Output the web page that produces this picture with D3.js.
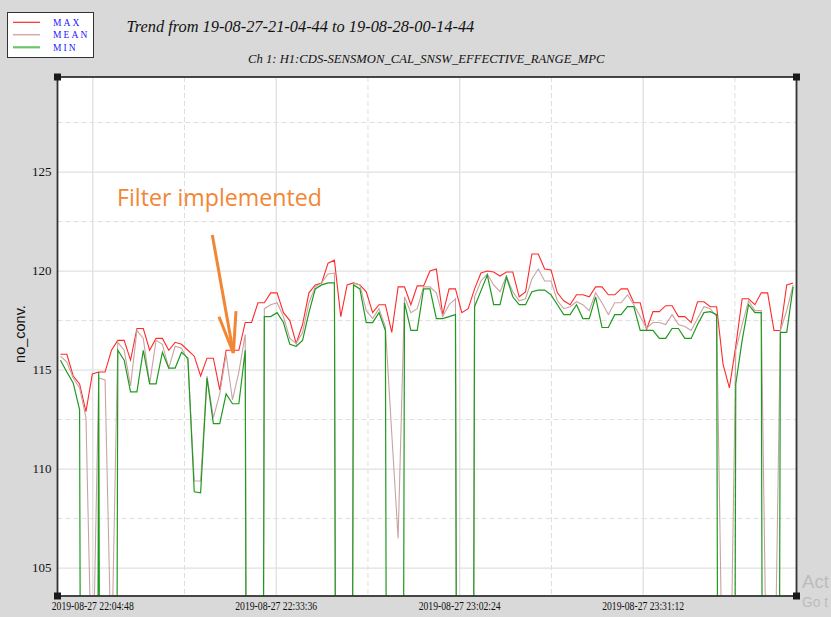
<!DOCTYPE html>
<html><head><meta charset="utf-8">
<script src="https://cdn.jsdelivr.net/npm/d3@7"></script>
<style>
html,body{margin:0;padding:0;background:#d9d9d9;overflow:hidden;}
svg{display:block;}
</style></head><body>
<svg id="chart" width="831" height="617"></svg>
<script>
// ---------------- data ----------------
const titleText = "Trend from 19-08-27-21-04-44 to 19-08-28-00-14-44";
const subtitleText = "Ch 1: H1:CDS-SENSMON_CAL_SNSW_EFFECTIVE_RANGE_MPC";
const yAxisTitle = "no_conv.";
const seriesNames = ["MAX", "MEAN", "MIN"];
const startTime = "2019-08-27 21:59:44";   // first sample
const stepSeconds = 60;                    // one sample per minute
const domainStart = "2019-08-27 21:59:16";
const domainEnd = "2019-08-27 23:55:16";
const xTickTimes = ["2019-08-27 22:04:48", "2019-08-27 22:33:36", "2019-08-27 23:02:24", "2019-08-27 23:31:12"];
const xMinorTimes = ["2019-08-27 22:19:12", "2019-08-27 22:48:00", "2019-08-27 23:16:48", "2019-08-27 23:45:36"];
const yDomain = [103.59, 129.8];
const yTickValues = [105, 110, 115, 120, 125];
const yMinorValues = [107.5, 112.5, 117.5, 122.5, 127.5];

const maxValues = [
 115.8,115.8,114.7,114.3,112.9,114.8,114.9,114.9,116.0,116.5,
 116.5,115.5,117.1,117.1,116.0,116.6,116.6,116.0,116.4,116.3,
 116.0,115.7,114.7,115.6,115.6,114.0,116.0,116.0,116.0,117.4,
 117.4,118.4,118.4,118.9,118.9,117.9,117.5,116.35,117.3,118.9,
 119.3,119.4,120.4,120.55,117.7,119.3,119.4,119.3,118.95,117.9,
 118.3,118.3,116.9,119.2,119.2,118.3,119.25,119.25,120.0,120.1,
 117.8,119.1,119.1,117.9,118.1,119.1,119.9,120.0,119.95,119.75,
 119.95,119.95,118.7,118.95,120.86,120.86,120.1,120.05,118.9,118.5,
 118.3,118.8,118.8,118.7,119.2,119.2,118.8,118.8,119.1,119.1,
 118.4,118.4,117.05,117.95,117.95,118.25,118.25,117.7,117.7,117.4,
 118.45,118.45,118.2,118.2,115.3,114.1,116.2,118.6,118.6,118.3,
 118.9,118.9,117.0,117.0,119.3,119.4
];
const meanValues = [
 115.7,115.4,114.6,114.1,112.6,98,114.6,114.5,100,116.4,
 116.0,114.2,117.0,116.6,114.3,116.5,116.3,115.1,116.2,116.1,
 115.5,109.4,109.4,114.7,112.6,113.8,115.8,113.5,114.9,116.8,
 0,0,118.1,118.3,118.4,117.7,116.6,116.35,116.9,118.4,
 119.2,119.4,119.85,119.9,0,0,119.4,119.3,118.0,117.6,
 118.1,117.2,111.8,106.5,118.7,117.9,118.1,119.2,119.2,118.9,
 117.7,118.3,118.6,0,0,118.7,119.5,119.85,119.3,118.96,
 119.75,118.95,118.5,118.6,119.6,120.1,119.5,119.5,118.5,118.1,
 118.2,118.45,118.3,118.0,118.9,118.4,117.8,118.4,118.4,118.8,
 118.3,117.7,117.1,117.4,117.4,117.3,117.8,117.3,117.2,117.0,
 117.6,118.2,118.1,117.7,97,95,116.0,117.3,118.5,118.0,
 118.0,95,96,117.0,118.0,119.3
];
const minValues = [
 115.5,114.9,114.35,113.0,0,0,114.9,0,0,116.0,
 115.5,113.9,113.9,116.0,114.3,114.3,115.9,115.1,115.1,115.9,
 115.6,108.85,108.8,114.6,112.3,112.3,113.8,113.3,113.3,116.0,
 0,0,117.7,117.7,117.9,117.4,116.3,116.2,116.5,117.9,
 119.1,119.3,119.4,119.4,0,0,119.3,119.1,117.4,117.4,
 117.9,117.0,0,0,118.4,117.0,117.0,119.1,119.1,117.6,
 117.6,117.7,117.8,0,0,118.2,119.0,119.8,118.3,118.3,
 119.7,118.7,118.3,118.3,118.96,119.04,119.04,118.8,118.3,117.8,
 117.8,118.3,117.6,117.6,118.7,117.15,117.15,117.8,117.8,118.2,
 118.2,117.0,117.0,117.0,116.6,116.6,117.1,117.1,116.6,116.6,
 117.3,117.9,117.95,117.8,0,0,114.3,116.5,118.3,117.9,
 117.9,0,0,116.9,116.9,119.2
];
const xTickLabels = ["2019-08-27 22:04:48", "2019-08-27 22:33:36", "2019-08-27 23:02:24", "2019-08-27 23:31:12"];

// annotation (in data coordinates)
const noteText = "Filter implemented";
const noteAnchor = {time: "2019-08-27 22:08:37", value: 123.3};
const arrowTail = {time: "2019-08-27 22:23:34", value: 121.82};
const arrowTip = {time: "2019-08-27 22:26:52", value: 115.86};
const arrowBarbs = [{time: "2019-08-27 22:24:37", value: 117.69}, {time: "2019-08-27 22:27:17", value: 117.98}];

// ---------------- drawing ----------------
const parse = d3.timeParse("%Y-%m-%d %H:%M:%S");
const t0 = parse(startTime);
const times = maxValues.map((_, i) => new Date(t0.getTime() + i * stepSeconds * 1000));

const plot = {left: 57.5, right: 796.5, top: 77, bottom: 596};
const x = d3.scaleTime().domain([parse(domainStart), parse(domainEnd)]).range([plot.left, plot.right]);
const y = d3.scaleLinear().domain(yDomain).range([plot.bottom, plot.top]);

const svg = d3.select("#chart");
svg.append("rect").attr("width", 831).attr("height", 617).attr("fill", "#d9d9d9");

const serif = "'Liberation Serif','DejaVu Serif',serif";
const sans = "'Liberation Sans','DejaVu Sans',sans-serif";

function fitWidth(sel, target) {
  const n = sel.node();
  const w = n.getComputedTextLength();
  const fs = parseFloat(sel.attr("font-size"));
  if (w > 0) sel.attr("font-size", (fs * target / w).toFixed(2));
}

// plot background
svg.append("rect").attr("x", plot.left).attr("y", plot.top)
  .attr("width", plot.right - plot.left).attr("height", plot.bottom - plot.top)
  .attr("fill", "#ffffff");

// grid
const grid = svg.append("g");
grid.selectAll(".hmin").data(yMinorValues).join("line")
  .attr("x1", plot.left).attr("x2", plot.right)
  .attr("y1", d => y(d)).attr("y2", d => y(d))
  .attr("stroke", "#dedede").attr("stroke-width", 1).attr("stroke-dasharray", "5,3");
grid.selectAll(".vmin").data(xMinorTimes.map(parse)).join("line")
  .attr("x1", d => x(d)).attr("x2", d => x(d))
  .attr("y1", plot.top).attr("y2", plot.bottom)
  .attr("stroke", "#dedede").attr("stroke-width", 1).attr("stroke-dasharray", "5,3");
grid.selectAll(".hmaj").data(yTickValues).join("line")
  .attr("x1", plot.left).attr("x2", plot.right)
  .attr("y1", d => y(d)).attr("y2", d => y(d))
  .attr("stroke", "#e0e0e0").attr("stroke-width", 1.3);
grid.selectAll(".vmaj").data(xTickTimes.map(parse)).join("line")
  .attr("x1", d => x(d)).attr("x2", d => x(d))
  .attr("y1", plot.top).attr("y2", plot.bottom)
  .attr("stroke", "#e0e0e0").attr("stroke-width", 1.3);

// clip
svg.append("clipPath").attr("id", "clip").append("rect")
  .attr("x", plot.left).attr("y", plot.top)
  .attr("width", plot.right - plot.left).attr("height", plot.bottom - plot.top);

const line = d3.line().x((d, i) => x(times[i])).y(d => y(d));
const lines = svg.append("g").attr("clip-path", "url(#clip)");
lines.append("path").datum(maxValues).attr("d", line)
  .attr("fill", "none").attr("stroke", "#ff2a2a").attr("stroke-width", 1.1);
lines.append("path").datum(meanValues).attr("d", line)
  .attr("fill", "none").attr("stroke", "#c9a3a3").attr("stroke-width", 1.1);
lines.append("path").datum(minValues).attr("d", line)
  .attr("fill", "none").attr("stroke", "#1f9a1f").attr("stroke-width", 1.2);

// frame
svg.append("rect").attr("x", plot.left).attr("y", plot.top)
  .attr("width", plot.right - plot.left).attr("height", plot.bottom - plot.top)
  .attr("fill", "none").attr("stroke", "#333").attr("stroke-width", 1.8);
const corners = [[plot.left, plot.top], [plot.right, plot.top], [plot.left, plot.bottom], [plot.right, plot.bottom]];
svg.selectAll(".corner").data(corners).join("rect")
  .attr("x", d => d[0] - 3.5).attr("y", d => d[1] - 3.5)
  .attr("width", 7).attr("height", 7).attr("fill", "#1a1a1a");

// y tick labels
svg.selectAll(".ylab").data(yTickValues).join("text")
  .attr("x", 51.5).attr("y", d => y(d)).attr("dy", "0.33em")
  .attr("text-anchor", "end").attr("font-family", serif).attr("font-size", 13)
  .attr("fill", "#111").text(d => d);

// y axis title
svg.append("text").attr("transform", "translate(25,334) rotate(-90)")
  .attr("text-anchor", "middle").attr("font-family", sans).attr("font-size", 14.5)
  .attr("fill", "#111").text(yAxisTitle);

// x tick labels
svg.selectAll(".xlab").data(xTickTimes).join("text")
  .attr("x", (d) => x(parse(d))).attr("y", 609.5)
  .attr("text-anchor", "middle").attr("font-family", serif).attr("font-size", 12)
  .attr("textLength", 82).attr("lengthAdjust", "spacingAndGlyphs")
  .attr("fill", "#111").text((d, i) => xTickLabels[i]);

// title + subtitle
const title = svg.append("text").attr("x", 126.5).attr("y", 31.5)
  .attr("font-family", serif).attr("font-style", "italic").attr("font-size", 18)
  .attr("fill", "#111").text(titleText);
fitWidth(title, 348);
const sub = svg.append("text").attr("x", 248).attr("y", 62.5)
  .attr("font-family", serif).attr("font-style", "italic").attr("font-size", 12.5)
  .attr("fill", "#111").text(subtitleText);
fitWidth(sub, 357);

// legend
const legend = svg.append("g");
legend.append("rect").attr("x", 7.5).attr("y", 12.5).attr("width", 86).attr("height", 45)
  .attr("fill", "#fff").attr("stroke", "#333").attr("stroke-width", 1);
const legendColors = ["#ff2a2a", "#d4aaaa", "#6cc46c"];
const legendWidths = [1.2, 1.5, 2.2];
const legendY = [22.3, 34.7, 47.3];
seriesNames.forEach((name, i) => {
  legend.append("line").attr("x1", 13).attr("x2", 40).attr("y1", legendY[i]).attr("y2", legendY[i])
    .attr("stroke", legendColors[i]).attr("stroke-width", legendWidths[i]);
  legend.append("text").attr("x", 53).attr("y", legendY[i] + 3.4)
    .attr("font-family", serif).attr("font-size", 9.5).attr("letter-spacing", 2.1)
    .attr("fill", "#1a1aff").text(name);
});

// annotation
const orange = "#f28634";
const note = svg.append("text").attr("x", x(parse(noteAnchor.time))).attr("y", y(noteAnchor.value))
  .attr("font-family", "'Open Sans','Lato',sans-serif").attr("font-size", 23)
  .attr("fill", orange).text(noteText);
fitWidth(note, 205);
const tip = [x(parse(arrowTip.time)), y(arrowTip.value)];
svg.append("line").attr("x1", x(parse(arrowTail.time))).attr("y1", y(arrowTail.value))
  .attr("x2", tip[0]).attr("y2", tip[1]).attr("stroke", orange).attr("stroke-width", 3);
arrowBarbs.forEach(b => {
  svg.append("line").attr("x1", x(parse(b.time))).attr("y1", y(b.value))
    .attr("x2", tip[0]).attr("y2", tip[1]).attr("stroke", orange).attr("stroke-width", 3);
});

// screen watermark fragments visible at the right edge
const wm1 = svg.append("text").attr("x", 802).attr("y", 588).attr("font-family", sans).attr("font-size", 20)
  .attr("fill", "#bcbcbc").text("Act");
fitWidth(wm1, 27);
const wm2 = svg.append("text").attr("x", 802).attr("y", 607).attr("font-family", sans).attr("font-size", 14.5)
  .attr("fill", "#bcbcbc").text("Go t");
fitWidth(wm2, 26);
</script>
</body></html>
